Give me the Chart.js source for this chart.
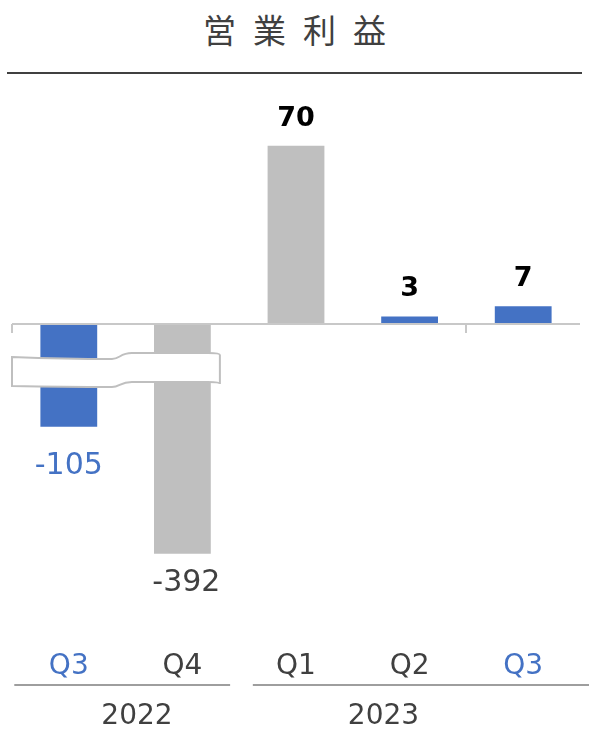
<!DOCTYPE html>
<html lang="ja">
<head>
  <meta charset="UTF-8">
  <title>営業利益</title>
  <script src="https://cdn.jsdelivr.net/npm/chart.js"></script>
  <style>
    html, body { margin: 0; padding: 0; background: #fff; }
    .wrap { position: relative; width: 589px; height: 732px; }
    .title {
      position: absolute; left: 7px; top: 0; width: 575px; height: 72px;
      border-bottom: 2px solid #404040;
      text-align: center; line-height: 58px;
      font-family: "Noto Sans CJK JP", sans-serif; font-size: 33px;
      letter-spacing: 17px; text-indent: 17px; color: #404040;
    }
    canvas { position: absolute; left: 0; top: 0; }
  </style>
</head>
<body>
<div class="wrap">
  <div class="title">営業利益</div>
  <canvas id="chart" width="589" height="732"></canvas>
</div>

<script>
  // chart data
  const quarters = ['Q3', 'Q4', 'Q1', 'Q2', 'Q3'];
  const years = ['2022', '2023'];
  const operatingProfit = [-105, -392, 70, 3, 7];
  const blueBar = [true, false, false, true, true];
  const blueLabel = [true, false, false, false, true];

  const BLUE = '#4472C4';
  const GREY = '#BFBFBF';
  const TEXT = '#404040';
  const FONT = '"DejaVu Sans", sans-serif';

  // broken axis: below BREAK the negative side is squeezed by RATIO
  const BREAK = -26.7;
  const RATIO = 0.174;

  class BrokenScale extends Chart.LinearScale {
    squeeze(v) {
      return v >= BREAK ? v : BREAK + (v - BREAK) * RATIO;
    }
    unsqueeze(t) {
      return t >= BREAK ? t : BREAK + (t - BREAK) / RATIO;
    }
    getPixelForValue(value) {
      if (value === null || value === undefined) return NaN;
      const lo = this.squeeze(this.min);
      const hi = this.squeeze(this.max);
      return this.getPixelForDecimal((this.squeeze(value) - lo) / (hi - lo));
    }
    getValueForPixel(pixel) {
      const lo = this.squeeze(this.min);
      const hi = this.squeeze(this.max);
      return this.unsqueeze(lo + this.getDecimalForPixel(pixel) * (hi - lo));
    }
  }
  BrokenScale.id = 'broken';
  BrokenScale.defaults = Chart.LinearScale.defaults;
  Chart.register(BrokenScale);

  // zero line, ticks, break symbol, value labels, year groups
  const decor = {
    id: 'decor',
    afterDatasetsDraw(chart) {
      const ctx = chart.ctx;
      const x = chart.scales.x;
      const y = chart.scales.y;
      const area = chart.chartArea;
      const y0 = y.getPixelForValue(0);
      const step = x.getPixelForValue(1) - x.getPixelForValue(0);

      ctx.save();
      // zero axis
      ctx.strokeStyle = '#C8C8C8';
      ctx.lineWidth = 2;
      ctx.beginPath();
      ctx.moveTo(area.left, y0);
      ctx.lineTo(area.right, y0);
      [-0.5, 3.5].forEach(i => {
        const px = Math.round(x.getPixelForValue(i));
        ctx.moveTo(px, y0);
        ctx.lineTo(px, y0 + 9);
      });
      ctx.stroke();

      // break symbol across the two negative bars
      const L = area.left;
      const R = x.getPixelForValue(1) + step * 0.33;
      const m = x.getPixelForValue(0.45);
      const t = y0 + 33;
      ctx.beginPath();
      ctx.moveTo(L, t);
      ctx.quadraticCurveTo((L + m) / 2, t + 2, m - 8, t + 2);
      ctx.bezierCurveTo(m, t + 2, m, t - 4, m + 12, t - 4);
      ctx.lineTo(R - 12, t - 4);
      ctx.quadraticCurveTo(R, t - 4, R, t - 2);
      ctx.lineTo(R, t + 27);
      ctx.quadraticCurveTo(R, t + 25, R - 12, t + 25);
      ctx.lineTo(m + 12, t + 25);
      ctx.bezierCurveTo(m, t + 25, m, t + 30, m - 8, t + 30);
      ctx.quadraticCurveTo((L + m) / 2, t + 30, L, t + 29);
      ctx.closePath();
      ctx.fillStyle = '#fff';
      ctx.fill();
      ctx.strokeStyle = '#BFBFBF';
      ctx.lineWidth = 2;
      ctx.stroke();

      // value labels
      const meta = chart.getDatasetMeta(0);
      ctx.textAlign = 'center';
      ctx.textBaseline = 'middle';
      meta.data.forEach((bar, i) => {
        const v = operatingProfit[i];
        if (v >= 0) {
          ctx.font = 'bold 27px ' + FONT;
          ctx.fillStyle = '#000';
          ctx.fillText(String(v), bar.x, bar.y - 27);
        } else {
          ctx.font = '30px ' + FONT;
          ctx.fillStyle = blueLabel[i] ? BLUE : TEXT;
          const gap = i === 0 ? 40 : 29;
          ctx.fillText(String(v), bar.x + (i === 0 ? 0 : 4), bar.y + gap);
        }
      });

      // year groups
      ctx.strokeStyle = '#7F7F7F';
      ctx.lineWidth = 1.5;
      ctx.beginPath();
      ctx.moveTo(x.getPixelForValue(-0.48), 685);
      ctx.lineTo(x.getPixelForValue(1.42), 685);
      ctx.moveTo(x.getPixelForValue(1.62), 685);
      ctx.lineTo(chart.width, 685);
      ctx.stroke();

      ctx.font = '28px ' + FONT;
      ctx.fillStyle = TEXT;
      ctx.fillText(years[0], x.getPixelForValue(0.6), 717);
      ctx.fillText(years[1], x.getPixelForValue(2.77), 717);
      ctx.restore();
    }
  };

  new Chart(document.getElementById('chart'), {
    type: 'bar',
    data: {
      labels: quarters,
      datasets: [{
        data: operatingProfit,
        backgroundColor: blueBar.map(c => c ? BLUE : GREY),
        borderWidth: 0,
        barPercentage: 0.5,
        categoryPercentage: 1
      }]
    },
    options: {
      responsive: false,
      animation: false,
      events: [],
      layout: { padding: { left: 12, right: 9, top: 100, bottom: 44 } },
      plugins: { legend: { display: false }, title: { display: false }, tooltip: { enabled: false } },
      scales: {
        x: {
          grid: { display: false, drawTicks: false },
          border: { display: false },
          ticks: {
            padding: 4,
            font: { family: FONT, size: 28 },
            color: ctx => blueLabel[ctx.index] ? BLUE : TEXT
          }
        },
        y: {
          type: 'broken',
          display: false,
          min: -601,
          max: 88
        }
      }
    },
    plugins: [decor]
  });
</script>
</body>
</html>
